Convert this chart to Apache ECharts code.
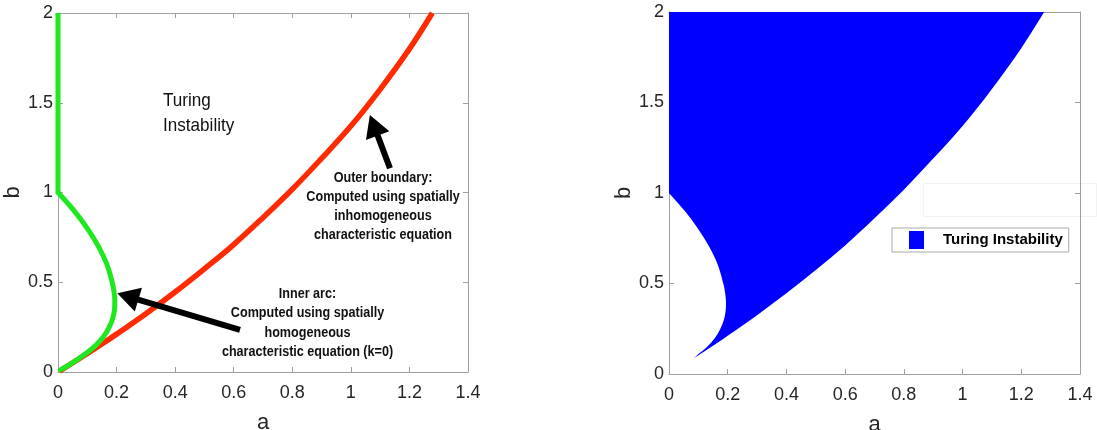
<!DOCTYPE html>
<html>
<head>
<meta charset="utf-8">
<script src="https://cdn.jsdelivr.net/npm/echarts@6/dist/echarts.min.js"></script>
<style>
  html, body { margin: 0; padding: 0; background: #fff; }
  #chart { width: 1097px; height: 430px; }
</style>
</head>
<body>
<div id="chart"></div>
<script>
// Outer boundary (spatially inhomogeneous condition), b against a
const outerA = [0.005, 0.083, 0.15, 0.2, 0.3, 0.4, 0.5, 0.6, 0.7, 0.8, 0.9, 1.0, 1.1, 1.2, 1.278];
const outerB = [0.005, 0.085, 0.156, 0.211, 0.325, 0.446, 0.575, 0.71, 0.86, 1.018, 1.19, 1.37, 1.575, 1.80, 2.0];

// Inner arc (homogeneous condition, k = 0), listed by increasing b
const innerB = [0.012, 0.05, 0.1, 0.15, 0.2, 0.25, 0.3, 0.35, 0.4, 0.45, 0.5, 0.6, 0.7, 0.8, 0.9, 1.0];
const innerA = [0.008, 0.048, 0.093, 0.13, 0.157, 0.175, 0.187, 0.193, 0.194, 0.191, 0.185, 0.167, 0.138, 0.1, 0.054, 0.0];

// Vertical part of the inner boundary along a = 0
const edgeA = [0, 0];
const edgeB = [2, 1];

// Annotation arrows (tail -> tip), in (a, b)
const arrowTailA = [0.6214, 1.1335];
const arrowTailB = [0.234, 1.135];
const arrowTipA = [0.2025, 1.065];
const arrowTipB = [0.4384, 1.432];

// Axis ticks
const aTicks = [0, 0.2, 0.4, 0.6, 0.8, 1, 1.2, 1.4];
const bTicks = [0, 0.5, 1, 1.5, 2];

const AXIS_GREY = '#a0a0a0';
const TEXT = '#262626';
const FONT = 'Liberation Sans, Arial, sans-serif';

const zip = (xs, ys) => xs.map((x, i) => [x, ys[i]]);
const outerPts = zip(outerA, outerB);
const innerPts = zip(innerA, innerB);
const edgePts = zip(edgeA, edgeB);
const arrows = arrowTailA.map((_, i) => [arrowTailA[i], arrowTailB[i], arrowTipA[i], arrowTipB[i]]);

// Region of Turing instability: bounded by b = 2 on top, the outer boundary,
// the inner arc from the cusp up to (0, 1), and the a = 0 edge.
const cusp = outerPts[1];
const regionOuter = outerPts.slice(1).reverse();              // top-right down to cusp
const regionInner = [cusp].concat(innerPts.filter(p => p[1] > cusp[1])); // cusp up to (0,1)

// Catmull-Rom spline through pixel points as cubic Bezier segments
function splineSegments(pts) {
  let d = '';
  for (let i = 0; i < pts.length - 1; i++) {
    const p0 = pts[i - 1] || pts[i];
    const p1 = pts[i];
    const p2 = pts[i + 1];
    const p3 = pts[i + 2] || p2;
    const c1 = [p1[0] + (p2[0] - p0[0]) / 6, p1[1] + (p2[1] - p0[1]) / 6];
    const c2 = [p2[0] - (p3[0] - p1[0]) / 6, p2[1] - (p3[1] - p1[1]) / 6];
    d += ' C' + c1[0] + ',' + c1[1] + ' ' + c2[0] + ',' + c2[1] + ' ' + p2[0] + ',' + p2[1];
  }
  return d;
}

const lefts = [58, 669];
const tops = [13, 12];
const widths = [410, 411];
const heights = [359, 362];

const grids = lefts.map((l, i) => ({
  left: l, top: tops[i], width: widths[i], height: heights[i],
  show: false, containLabel: false, outerBoundsMode: 'none'
}));

function xAxes(gi) {
  const common = {
    gridIndex: gi, type: 'value', min: aTicks[0], max: aTicks[aTicks.length - 1],
    interval: aTicks[1] - aTicks[0],
    splitLine: { show: false },
    axisLine: { show: true, onZero: false, lineStyle: { color: AXIS_GREY, width: 1 } },
    axisTick: { show: true, inside: true, length: 5, lineStyle: { color: AXIS_GREY } }
  };
  return [
    Object.assign({}, common, {
      position: 'bottom',
      axisLabel: { margin: 12, color: TEXT, fontSize: 18, fontFamily: FONT },
      name: 'a', nameLocation: 'middle', nameGap: 40,
      nameTextStyle: { fontSize: 22, color: TEXT, fontFamily: FONT }
    }),
    Object.assign({}, common, { position: 'top', axisLabel: { show: false } })
  ];
}

function yAxes(gi) {
  const common = {
    gridIndex: gi, type: 'value', min: bTicks[0], max: bTicks[bTicks.length - 1],
    interval: bTicks[1] - bTicks[0],
    splitLine: { show: false },
    axisLine: { show: true, onZero: false, lineStyle: { color: AXIS_GREY, width: 1 } },
    axisTick: { show: true, inside: true, length: 5, lineStyle: { color: AXIS_GREY } }
  };
  return [
    Object.assign({}, common, {
      position: 'left',
      axisLabel: { margin: 5, color: TEXT, fontSize: 18, fontFamily: FONT },
      name: 'b', nameLocation: 'middle', nameGap: 27, nameRotate: 90,
      nameTextStyle: { fontSize: 22, color: TEXT, fontFamily: FONT }
    }),
    Object.assign({}, common, { position: 'right', axisLabel: { show: false } })
  ];
}

const option = {
  animation: false,
  backgroundColor: '#fff',
  grid: grids,
  xAxis: xAxes(0).concat(xAxes(1)),
  yAxis: yAxes(0).concat(yAxes(1)),
  legend: {
    data: ['Turing Instability'],
    left: 892, top: 228,
    orient: 'horizontal',
    icon: 'rect',
    itemWidth: 15, itemHeight: 18,
    padding: [3, 6, 3, 17],
    backgroundColor: '#fff',
    borderColor: '#a8a8a8', borderWidth: 1, borderRadius: 0,
    selectedMode: false,
    textStyle: { fontSize: 15, fontWeight: 'bold', color: '#000', fontFamily: FONT, padding: [0, 0, 0, 14] }
  },
  graphic: [
    {
      type: 'text', x: 163, y: 88, scaleX: 0.9,
      style: { text: 'Turing\nInstability', fill: '#111', fontSize: 19, fontFamily: FONT,
               lineHeight: 25, textAlign: 'left', textVerticalAlign: 'top' }
    },
    {
      type: 'text', x: 383, y: 168, scaleX: 0.9,
      style: { text: 'Outer boundary:\nComputed using spatially\ninhomogeneous\ncharacteristic equation',
               fill: '#111', fontSize: 14, fontWeight: 'bold', fontFamily: FONT,
               lineHeight: 19.3, textAlign: 'center', textVerticalAlign: 'top' }
    },
    {
      type: 'text', x: 307.5, y: 284.5, scaleX: 0.9,
      style: { text: 'Inner arc:\nComputed using spatially\nhomogeneous\ncharacteristic equation (k=0)',
               fill: '#111', fontSize: 14, fontWeight: 'bold', fontFamily: FONT,
               lineHeight: 19.3, textAlign: 'center', textVerticalAlign: 'top' }
    },
    {
      type: 'rect', shape: { x: 923.5, y: 183.5, width: 173, height: 33 },
      style: { fill: 'none', stroke: '#f2f2f2', lineWidth: 1 }, z: -1
    }
  ],
  series: [
    {
      name: 'Outer boundary', type: 'line', xAxisIndex: 0, yAxisIndex: 0,
      data: outerPts, smooth: 0.4, showSymbol: false, symbol: 'none', clip: false,
      lineStyle: { color: '#ff2a00', width: 5.5 }, z: 2
    },
    {
      name: 'Inner arc', type: 'line', xAxisIndex: 0, yAxisIndex: 0,
      data: innerPts, smooth: 0.4, showSymbol: false, symbol: 'none', clip: false,
      lineStyle: { color: '#1ee81e', width: 5, cap: 'round' }, z: 3
    },
    {
      name: 'Inner edge', type: 'line', xAxisIndex: 0, yAxisIndex: 0,
      data: edgePts, showSymbol: false, symbol: 'none', clip: false,
      lineStyle: { color: '#1ee81e', width: 5 }, z: 3
    },
    {
      name: 'Arrows', type: 'custom', xAxisIndex: 0, yAxisIndex: 0,
      data: arrows, clip: false, z: 4,
      renderItem: function (params, api) {
        const t = api.coord([api.value(0), api.value(1)]);
        const h = api.coord([api.value(2), api.value(3)]);
        const dx = h[0] - t[0], dy = h[1] - t[1];
        const L = Math.hypot(dx, dy), ux = dx / L, uy = dy / L;
        const hl = 22, hw = 12.5;
        const bx = h[0] - ux * hl, by = h[1] - uy * hl;
        return {
          type: 'group',
          children: [
            { type: 'line', shape: { x1: t[0], y1: t[1], x2: bx + ux * 2, y2: by + uy * 2 },
              style: { stroke: '#000', lineWidth: 6 } },
            { type: 'polygon',
              shape: { points: [[h[0], h[1]], [bx - uy * hw, by + ux * hw], [bx + uy * hw, by - ux * hw]] },
              style: { fill: '#000' } }
          ]
        };
      }
    },
    {
      name: 'Turing Instability', type: 'custom', xAxisIndex: 2, yAxisIndex: 2,
      data: [0], clip: false, z: 2,
      itemStyle: { color: '#0000ff' },
      renderItem: function (params, api) {
        const topLeft = api.coord(edgePts[0]);
        const outerPx = regionOuter.map(p => api.coord(p));
        const innerPx = regionInner.map(p => api.coord(p));
        let d = 'M' + topLeft[0] + ',' + topLeft[1];
        d += ' L' + outerPx[0][0] + ',' + outerPx[0][1];
        d += splineSegments(outerPx);
        d += splineSegments(innerPx);
        d += ' Z';
        return { type: 'path', shape: { pathData: d }, style: { fill: '#0000ff', stroke: null } };
      }
    }
  ]
};

const chart = echarts.init(document.getElementById('chart'), null, { renderer: 'canvas' });
chart.setOption(option);
</script>
</body>
</html>
